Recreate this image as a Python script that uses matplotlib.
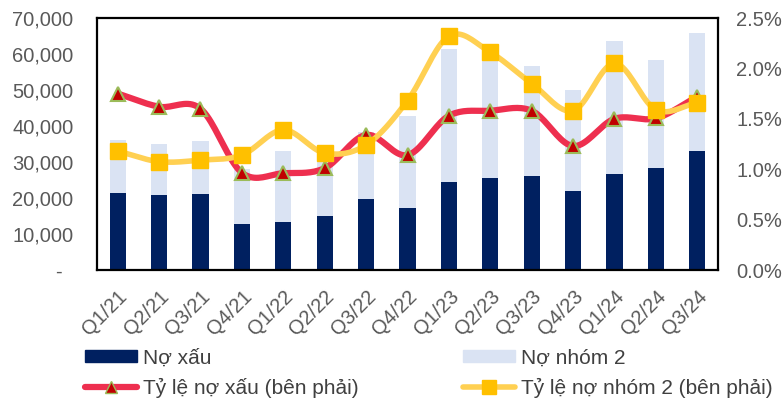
import numpy as np
import matplotlib
matplotlib.use("Agg")
import matplotlib.pyplot as plt
from matplotlib.lines import Line2D
from matplotlib.patches import Patch
from matplotlib.ticker import FuncFormatter

plt.rcParams['font.family'] = ['Liberation Sans', 'DejaVu Sans']

quarters = ["Q1/21", "Q2/21", "Q3/21", "Q4/21", "Q1/22", "Q2/22", "Q3/22", "Q4/22",
            "Q1/23", "Q2/23", "Q3/23", "Q4/23", "Q1/24", "Q2/24", "Q3/24"]
no_xau = [21500, 20900, 21000, 12800, 13400, 14900, 19700, 17300,
          24400, 25600, 26000, 21900, 26700, 28300, 33100]
tong_no = [36100, 35000, 35700, 28000, 33100, 30500, 38400, 42900,
           61400, 60500, 56800, 50000, 63600, 58300, 65700]
no_nhom2 = [t - x for t, x in zip(tong_no, no_xau)]
ty_le_xau = [1.75, 1.62, 1.60, 0.965, 0.96, 1.01, 1.34, 1.14,
             1.53, 1.58, 1.58, 1.23, 1.50, 1.505, 1.72]
ty_le_nhom2 = [1.18, 1.075, 1.09, 1.14, 1.39, 1.16, 1.24, 1.68,
               2.32, 2.16, 1.85, 1.58, 2.05, 1.59, 1.66]

NAVY = "#002060"
LIGHT = "#DAE3F3"
RED = "#EE2F4F"
YELLOW = "#FFD052"
GREY = "#595959"


def smooth(y, n=20):
    # Catmull-Rom curve through the points (like Excel's smoothed line)
    y = np.asarray(y, float)
    x = np.arange(len(y), dtype=float)
    px = np.concatenate([[2 * x[0] - x[1]], x, [2 * x[-1] - x[-2]]])
    py = np.concatenate([[2 * y[0] - y[1]], y, [2 * y[-1] - y[-2]]])
    xs, ys = [], []
    for i in range(1, len(px) - 2):
        t = np.linspace(0, 1, n, endpoint=False)
        for arr, out in ((px, xs), (py, ys)):
            p0, p1, p2, p3 = arr[i - 1], arr[i], arr[i + 1], arr[i + 2]
            out.extend(0.5 * (2 * p1 + (-p0 + p2) * t
                              + (2 * p0 - 5 * p1 + 4 * p2 - p3) * t ** 2
                              + (-p0 + 3 * p1 - 3 * p2 + p3) * t ** 3))
    xs.append(x[-1]); ys.append(y[-1])
    return np.array(xs), np.array(ys)


fig = plt.figure(figsize=(7.84, 4.03), dpi=100)
ax = fig.add_axes([97 / 784, 1 - 270 / 403, 621 / 784, 252 / 403])
x = np.arange(len(quarters))
ax.bar(x, no_xau, width=0.39, color=NAVY, zorder=2)
ax.bar(x, no_nhom2, width=0.39, bottom=no_xau, color=LIGHT, zorder=2)
ax.set_xlim(-0.5, len(quarters) - 0.5)
ax.set_ylim(0, 70000)
ax.set_yticks(range(0, 70001, 10000))
ax.yaxis.set_major_formatter(FuncFormatter(lambda v, p: "-  " if v == 0 else f"{v:,.0f}"))
ax.set_xticks(x)
ax.set_xticklabels(quarters, rotation=45, ha="right", rotation_mode="anchor")
ax.tick_params(axis="both", length=0, labelsize=14.5, colors=GREY)
ax.tick_params(axis="y", pad=17)
ax.tick_params(axis="x", pad=12)
for s in ax.spines.values():
    s.set_color("black")
    s.set_linewidth(1.6)

ax2 = ax.twinx()
ax2.set_ylim(0, 2.5)
ax2.set_yticks(np.arange(0, 2.51, 0.5))
ax2.yaxis.set_major_formatter(FuncFormatter(lambda v, p: f"{v:.1f}%"))
ax2.tick_params(axis="y", length=0, labelsize=14.5, colors=GREY, pad=13)
for s in ax2.spines.values():
    s.set_visible(False)

# red series first, yellow drawn over it (as in the source chart)
sx, sy = smooth(ty_le_xau)
ax2.plot(sx, sy, color=RED, lw=4.5, zorder=3, solid_capstyle="round")
ax2.plot(x, ty_le_xau, ls="none", marker="^", ms=9.5, color="#C00000",
         markeredgecolor="#9BBB59", markeredgewidth=1.5, zorder=4)
sx, sy = smooth(ty_le_nhom2)
ax2.plot(sx, sy, color=YELLOW, lw=4, zorder=5, solid_capstyle="round")
ax2.plot(x, ty_le_nhom2, ls="none", marker="s", ms=11, color="#FFC000", zorder=6)

handles = [
    Patch(color=NAVY),
    Line2D([], [], color=RED, lw=4.5, marker="^", ms=8, markerfacecolor="#C00000",
           markeredgecolor="#9BBB59", solid_capstyle="round"),
    Patch(color=LIGHT),
    Line2D([], [], color=YELLOW, lw=4, marker="s", ms=10, markerfacecolor="#FFC000",
           markeredgecolor="#FFC000", solid_capstyle="round"),
]
labels = ["Nợ xấu", "Tỷ lệ nợ xấu (bên phải)", "Nợ nhóm 2", "Tỷ lệ nợ nhóm 2 (bên phải)"]
fig.legend(handles, labels, ncol=2, loc="center left", bbox_to_anchor=(70 / 784, 1 - 373 / 403),
           frameon=False, fontsize=15, handlelength=2.5, handleheight=0.5, handletextpad=0.3,
           columnspacing=5.0, labelspacing=0.5, labelcolor="#404040", borderpad=0.2)

fig.savefig("out.png", dpi=100)
